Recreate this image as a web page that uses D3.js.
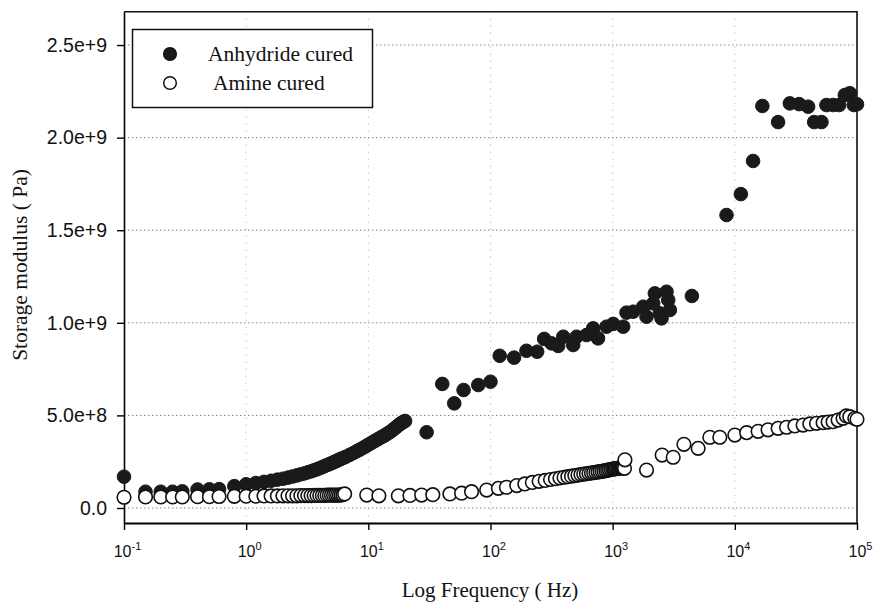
<!DOCTYPE html>
<html>
<head>
<meta charset="utf-8">
<script src="https://cdn.jsdelivr.net/npm/d3@7"></script>
<style>
  body { margin: 0; background: #fff; }
  svg { display: block; }
</style>
</head>
<body>
<div class="container"></div>
<script>
// Anhydride cured (filled circles): frequency (Hz) and storage modulus (Pa)
const anhydrideFreq = [0.1, 0.15, 0.2, 0.25, 0.3, 0.4, 0.5, 0.6, 0.8, 1.0, 1.2, 1.4, 1.6, 1.8, 2.0, 2.2, 2.4, 2.6, 2.8, 3.0,
  3.2, 3.4, 3.6, 3.8, 4.0, 4.2, 4.4, 4.6, 4.8, 5.0, 5.2, 5.4, 5.6, 5.8, 6.0, 6.2, 6.5, 7.0, 7.5, 8.0,
  8.5, 9.0, 9.5, 10, 10.5, 11, 11.5, 12, 12.5, 13, 13.5, 14, 14.5, 15, 15.5, 16, 16.5, 17, 17.5, 18,
  18.5, 19, 19.5, 20, 30, 40.3, 50.5, 60.2, 79.4, 100, 119, 156, 197,
  241, 275, 316, 358, 394, 475, 507, 611, 692, 759, 891, 1009, 1219, 1298, 1472, 1778, 1893, 2147, 2215, 2432,
  2512, 2760, 2850, 2940, 4450, 8550, 11200, 14100, 16800, 22600, 28200, 33600, 39800, 44600, 51200, 56200, 63800, 71500, 79500, 87300,
  94200, 100000];
const anhydrideMod = [1.69e8, 8.8e7, 8.8e7, 8.8e7, 9.0e7, 1.0e8, 1.01e8, 1.02e8, 1.18e8, 1.28e8, 1.35e8, 1.41e8, 1.47e8, 1.53e8, 1.58e8, 1.64e8, 1.70e8, 1.76e8, 1.82e8, 1.87e8,
  1.93e8, 1.98e8, 2.04e8, 2.09e8, 2.15e8, 2.21e8, 2.27e8, 2.32e8, 2.37e8, 2.42e8, 2.47e8, 2.52e8, 2.57e8, 2.62e8, 2.66e8, 2.70e8, 2.76e8, 2.86e8, 2.96e8, 3.06e8,
  3.15e8, 3.24e8, 3.33e8, 3.42e8, 3.50e8, 3.58e8, 3.65e8, 3.72e8, 3.79e8, 3.85e8, 3.91e8, 3.97e8, 4.04e8, 4.10e8, 4.17e8, 4.24e8, 4.31e8, 4.38e8, 4.45e8, 4.51e8,
  4.57e8, 4.62e8, 4.66e8, 4.70e8, 4.09e8, 6.70e8, 5.65e8, 6.37e8, 6.64e8, 6.82e8, 8.22e8, 8.12e8, 8.49e8,
  8.44e8, 9.13e8, 8.89e8, 8.75e8, 9.25e8, 8.80e8, 9.25e8, 9.34e8, 9.70e8, 9.16e8, 9.79e8, 9.94e8, 9.79e8, 1.055e9, 1.06e9, 1.087e9, 1.033e9, 1.105e9, 1.159e9, 1.051e9,
  1.024e9, 1.168e9, 1.123e9, 1.069e9, 1.145e9, 1.582e9, 1.695e9, 1.874e9, 2.171e9, 2.084e9, 2.185e9, 2.181e9, 2.167e9, 2.084e9, 2.084e9, 2.176e9, 2.176e9, 2.176e9, 2.23e9, 2.24e9,
  2.176e9, 2.18e9];

// Amine cured (open circles)
const amineFreq = [0.1, 0.15, 0.2, 0.25, 0.3, 0.4, 0.5, 0.6, 0.8, 1.0, 1.2, 1.4, 1.6, 1.8, 2.0, 2.2, 2.4, 2.6, 2.8, 3.0,
  3.2, 3.4, 3.6, 3.8, 4.0, 4.2, 4.4, 4.6, 4.8, 5.0, 5.2, 5.4, 5.6, 5.8, 6.0, 6.2, 6.4, 9.7, 12.2, 17.6,
  21.9, 27.3, 33.7, 46.5, 58, 70, 93, 116, 135, 164, 191, 220, 250, 280, 310, 340, 370, 400, 430, 460,
  490, 520, 550, 580, 610, 640, 670, 700, 730, 760, 790, 820, 850, 880, 910, 940, 970, 1000, 1025, 1050,
  1075, 1100, 1125, 1150, 1175, 1200, 1225, 1250, 1260, 1893, 2540, 3130, 3830, 5010, 6240, 7530, 10000, 12500, 15500, 18700,
  22600, 26500, 31000, 36200, 41100, 46600, 52800, 58000, 63700, 70000, 76900, 81800, 87300, 95900, 100000];
const amineMod = [5.8e7, 6.0e7, 6.0e7, 6.0e7, 6.0e7, 6.1e7, 6.1e7, 6.2e7, 6.3e7, 6.4e7, 6.4e7, 6.5e7, 6.5e7, 6.5e7, 6.6e7, 6.6e7, 6.6e7, 6.6e7, 6.7e7, 6.7e7,
  6.7e7, 6.7e7, 6.8e7, 6.8e7, 6.8e7, 6.8e7, 6.8e7, 6.9e7, 6.9e7, 6.9e7, 6.9e7, 7.0e7, 7.0e7, 7.0e7, 7.1e7, 7.2e7, 7.6e7, 7.0e7, 6.6e7, 6.6e7,
  6.8e7, 7.0e7, 7.2e7, 7.6e7, 8.0e7, 8.8e7, 9.7e7, 1.06e8, 1.12e8, 1.21e8, 1.30e8, 1.38e8, 1.44e8, 1.49e8, 1.54e8, 1.58e8, 1.62e8, 1.66e8, 1.69e8, 1.72e8,
  1.75e8, 1.78e8, 1.81e8, 1.83e8, 1.85e8, 1.87e8, 1.89e8, 1.91e8, 1.93e8, 1.95e8, 1.96e8, 1.98e8, 2.00e8, 2.02e8, 2.04e8, 2.06e8, 2.08e8, 2.10e8, 2.11e8, 2.12e8,
  2.13e8, 2.14e8, 2.15e8, 2.16e8, 2.17e8, 2.18e8, 2.18e8, 2.14e8, 2.60e8, 2.05e8, 2.86e8, 2.74e8, 3.44e8, 3.22e8, 3.82e8, 3.82e8, 3.94e8, 4.07e8, 4.14e8, 4.22e8,
  4.30e8, 4.36e8, 4.43e8, 4.48e8, 4.54e8, 4.57e8, 4.61e8, 4.64e8, 4.66e8, 4.75e8, 4.84e8, 4.97e8, 4.93e8, 4.84e8, 4.79e8];

const yTicks = [0, 5e8, 1e9, 1.5e9, 2e9, 2.5e9];
const yTickLabels = ['0.0', '5.0e+8', '1.0e+9', '1.5e+9', '2.0e+9', '2.5e+9'];
const xTicks = [0.1, 1, 10, 100, 1000, 10000, 100000];
const xTickExp = ['-1', '0', '1', '2', '3', '4', '5'];
const legendNames = ['Anhydride cured', 'Amine cured'];

const width = 873;
const height = 604;
const margin = {top: 11.7, right: 16, bottom: 81, left: 124};
const r = 6.8;
const serif = '"Liberation Serif", "Times New Roman", serif';
const sans = '"Liberation Sans", Arial, sans-serif';

const svg = d3.select('.container')
  .append('svg')
  .attr('width', width)
  .attr('height', height);

const xScale = d3.scaleLog().domain([0.1, 1e5]).range([margin.left, width - margin.right]);
const yScale = d3.scaleLinear().domain([-8.1e7, 2.68e9]).range([height - margin.bottom, margin.top]);

// dotted grid
svg.append('g')
  .selectAll('line')
  .data(yTicks)
  .enter()
  .append('line')
  .attr('x1', margin.left)
  .attr('x2', width - margin.right)
  .attr('y1', d => yScale(d))
  .attr('y2', d => yScale(d))
  .attr('stroke', '#666')
  .attr('stroke-width', 0.8)
  .attr('stroke-dasharray', '1.5,2.5');

svg.append('g')
  .selectAll('line')
  .data(xTicks.slice(1, -1))
  .enter()
  .append('line')
  .attr('x1', d => xScale(d))
  .attr('x2', d => xScale(d))
  .attr('y1', margin.top)
  .attr('y2', height - margin.bottom)
  .attr('stroke', '#888')
  .attr('stroke-width', 0.7)
  .attr('stroke-dasharray', '1,6');

// axes
const yAxis = d3.axisLeft(yScale)
  .tickValues(yTicks)
  .tickSize(7)
  .tickSizeOuter(0)
  .tickFormat((d, i) => yTickLabels[i]);

const gy = svg.append('g')
  .attr('id', 'y-axis')
  .attr('transform', `translate(${margin.left}, 0)`)
  .call(yAxis);
gy.select('.domain').attr('stroke-width', 1.6);
gy.selectAll('.tick line').attr('stroke-width', 1.4);
gy.selectAll('.tick text')
  .attr('x', -17)
  .style('font-family', sans)
  .style('font-size', '19.5px')
  .attr('fill', '#111');

const xAxis = d3.axisBottom(xScale)
  .tickValues(xTicks)
  .tickSize(7)
  .tickSizeOuter(0)
  .tickFormat('');

const gx = svg.append('g')
  .attr('id', 'x-axis')
  .attr('transform', `translate(0, ${height - margin.bottom})`)
  .call(xAxis);
gx.select('.domain').attr('stroke-width', 2.2);
gx.selectAll('.tick line').attr('stroke-width', 1.4);

const xLabels = gx.selectAll('.tick')
  .append('text')
  .attr('x', 3)
  .attr('y', 34)
  .attr('text-anchor', 'middle')
  .attr('fill', '#111')
  .style('font-family', sans)
  .style('font-size', '16px');
xLabels.append('tspan').text('10');
xLabels.append('tspan')
  .attr('dy', -7)
  .style('font-size', '11px')
  .text((d, i) => xTickExp[i]);

// top and right frame
svg.append('path')
  .attr('d', `M${margin.left},${margin.top}H${width - margin.right}V${height - margin.bottom}`)
  .attr('fill', 'none')
  .attr('stroke', '#111')
  .attr('stroke-width', 1.6);

// points
const anhydride = anhydrideFreq.map((f, i) => ({f: f, v: anhydrideMod[i]}));
const amine = amineFreq.map((f, i) => ({f: f, v: amineMod[i]}));

svg.append('g')
  .selectAll('circle')
  .data(anhydride)
  .enter()
  .append('circle')
  .attr('cx', d => xScale(d.f))
  .attr('cy', d => yScale(d.v))
  .attr('r', r)
  .attr('fill', '#1a1a1a')
  .attr('stroke', '#1a1a1a')
  .attr('stroke-width', 1);

svg.append('g')
  .selectAll('circle')
  .data(amine)
  .enter()
  .append('circle')
  .attr('cx', d => xScale(d.f))
  .attr('cy', d => yScale(d.v))
  .attr('r', r)
  .attr('fill', '#fff')
  .attr('stroke', '#111')
  .attr('stroke-width', 1.6);

// legend
const legend = svg.append('g');
legend.append('rect')
  .attr('x', 132.5)
  .attr('y', 29.5)
  .attr('width', 240)
  .attr('height', 78)
  .attr('fill', '#fff')
  .attr('stroke', '#111')
  .attr('stroke-width', 1.5);

legendNames.forEach((name, i) => {
  legend.append('circle')
    .attr('cx', 170)
    .attr('cy', 54 + i * 29)
    .attr('r', 6.3)
    .attr('fill', i === 0 ? '#1a1a1a' : '#fff')
    .attr('stroke', '#111')
    .attr('stroke-width', 1.5);
  legend.append('text')
    .attr('x', i === 0 ? 208 : 213)
    .attr('y', 61 + i * 29)
    .attr('fill', '#111')
    .style('font-family', serif)
    .style('font-size', '21.5px')
    .text(name);
});

// axis titles
svg.append('text')
  .attr('x', 490)
  .attr('y', 597)
  .attr('text-anchor', 'middle')
  .attr('fill', '#111')
  .style('font-family', serif)
  .style('font-size', '21px')
  .text('Log Frequency ( Hz)');

svg.append('text')
  .attr('transform', 'translate(27, 265) rotate(-90)')
  .attr('text-anchor', 'middle')
  .attr('fill', '#111')
  .style('font-family', serif)
  .style('font-size', '21.5px')
  .text('Storage modulus ( Pa)');
</script>
</body>
</html>
